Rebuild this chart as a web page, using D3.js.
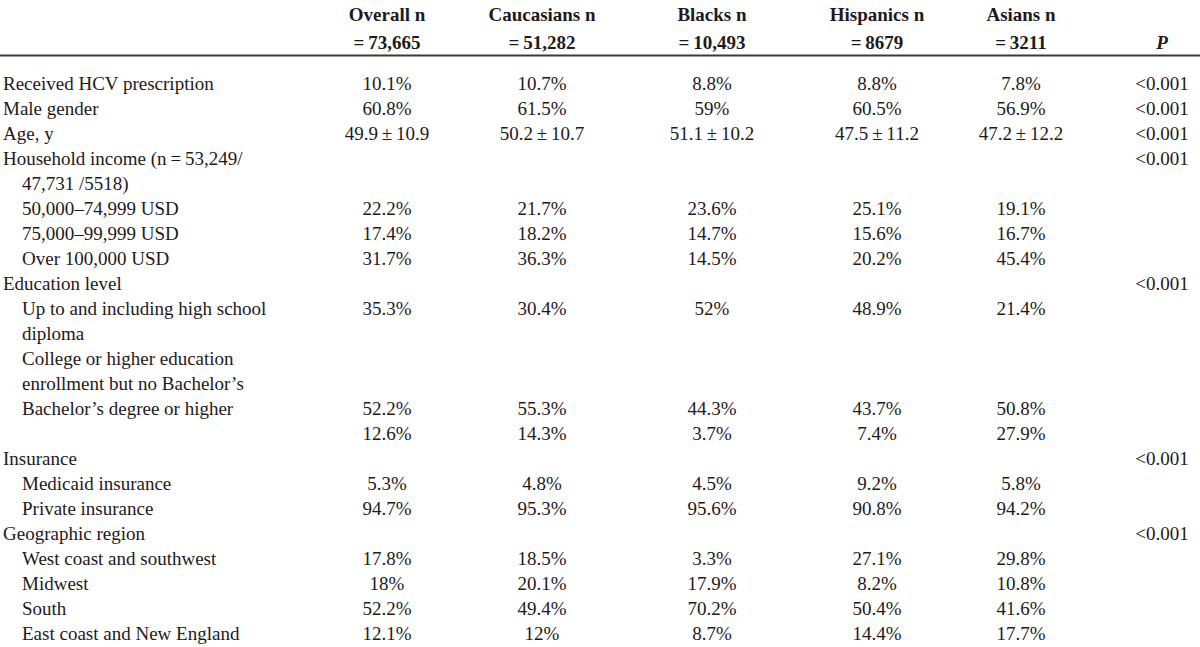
<!DOCTYPE html>
<html>
<head>
<meta charset="utf-8">
<script src="https://cdn.jsdelivr.net/npm/d3@7"></script>
<style>
  html, body { margin: 0; padding: 0; background: #ffffff; }
  svg { display: block; }
</style>
</head>
<body>
<div id="chart"></div>
<script>
// ---- Data ----
const columnNames = ["Overall n", "Caucasians n", "Blacks n", "Hispanics n", "Asians n"];
const columnCounts = ["=\u200973,665", "=\u200951,282", "=\u200910,493", "=\u20098679", "=\u20093211"];
const pHeader = "P";

const rowLabels = [
  "Received HCV prescription",
  "Male gender",
  "Age, y",
  "Household income (n\u2009=\u200953,249/",
  "47,731 /5518)",
  "50,000\u201374,999 USD",
  "75,000\u201399,999 USD",
  "Over 100,000 USD",
  "Education level",
  "Up to and including high school",
  "diploma",
  "College or higher education",
  "enrollment but no Bachelor\u2019s",
  "Bachelor\u2019s degree or higher",
  "",
  "Insurance",
  "Medicaid insurance",
  "Private insurance",
  "Geographic region",
  "West coast and southwest",
  "Midwest",
  "South",
  "East coast and New England"
];
const rowLevel = [0,0,0,0,1,1,1,1,0,1,1,1,1,1,1,0,1,1,0,1,1,1,1];

const overall    = ["10.1%","60.8%","49.9\u2009\u00b1\u200910.9","","","22.2%","17.4%","31.7%","","35.3%","","","","52.2%","12.6%","","5.3%","94.7%","","17.8%","18%","52.2%","12.1%"];
const caucasians = ["10.7%","61.5%","50.2\u2009\u00b1\u200910.7","","","21.7%","18.2%","36.3%","","30.4%","","","","55.3%","14.3%","","4.8%","95.3%","","18.5%","20.1%","49.4%","12%"];
const blacks     = ["8.8%","59%","51.1\u2009\u00b1\u200910.2","","","23.6%","14.7%","14.5%","","52%","","","","44.3%","3.7%","","4.5%","95.6%","","3.3%","17.9%","70.2%","8.7%"];
const hispanics  = ["8.8%","60.5%","47.5\u2009\u00b1\u200911.2","","","25.1%","15.6%","20.2%","","48.9%","","","","43.7%","7.4%","","9.2%","90.8%","","27.1%","8.2%","50.4%","14.4%"];
const asians     = ["7.8%","56.9%","47.2\u2009\u00b1\u200912.2","","","19.1%","16.7%","45.4%","","21.4%","","","","50.8%","27.9%","","5.8%","94.2%","","29.8%","10.8%","41.6%","17.7%"];
const pValues    = ["<0.001","<0.001","<0.001","<0.001","","","","","<0.001","","","","","","","<0.001","","","<0.001","","","",""];

const seriesValues = [overall, caucasians, blacks, hispanics, asians];

// ---- Layout ----
const W = 1200, H = 647;
const FONT = "'Liberation Serif', 'Times New Roman', serif";
const FS = 19;
const INK = "#1e1a1b";

const svg = d3.select("#chart").append("svg")
  .attr("width", W).attr("height", H)
  .style("font-family", FONT)
  .style("font-size", FS + "px");

const x = d3.scaleOrdinal()
  .domain(columnNames.concat([pHeader]))
  .range([387, 542, 712, 877, 1021, 1162]);

const y = d3.scalePoint()
  .domain(d3.range(rowLabels.length))
  .range([90, 640]);

const labelX = d3.scaleOrdinal().domain([0, 1]).range([3, 22]);

// Header
const head = svg.append("g").attr("font-weight", "bold").attr("fill", INK).attr("text-anchor", "middle");
head.selectAll("text.h1").data(columnNames).join("text")
  .attr("class", "h1")
  .attr("x", d => x(d)).attr("y", 21).text(d => d);
head.selectAll("text.h2").data(columnCounts).join("text")
  .attr("class", "h2")
  .attr("x", (d, i) => x(columnNames[i])).attr("y", 49).text(d => d);
head.append("text").attr("x", x(pHeader)).attr("y", 49)
  .attr("font-style", "italic").text(pHeader);

// Rule
svg.append("line")
  .attr("x1", 0).attr("x2", W)
  .attr("y1", 55.5).attr("y2", 55.5)
  .attr("stroke", "#3a3a3a").attr("stroke-width", 2);

// Row labels
svg.append("g").attr("fill", INK)
  .selectAll("text").data(rowLabels).join("text")
  .attr("x", (d, i) => labelX(rowLevel[i]))
  .attr("y", (d, i) => y(i))
  .text(d => d);

// Series values
seriesValues.forEach((vals, c) => {
  svg.append("g").attr("fill", INK).attr("text-anchor", "middle")
    .selectAll("text").data(vals).join("text")
    .attr("x", x(columnNames[c]))
    .attr("y", (d, i) => y(i))
    .text(d => d);
});

// P values
svg.append("g").attr("fill", INK).attr("text-anchor", "middle")
  .selectAll("text").data(pValues).join("text")
  .attr("x", x(pHeader))
  .attr("y", (d, i) => y(i))
  .text(d => d);
</script>
</body>
</html>
